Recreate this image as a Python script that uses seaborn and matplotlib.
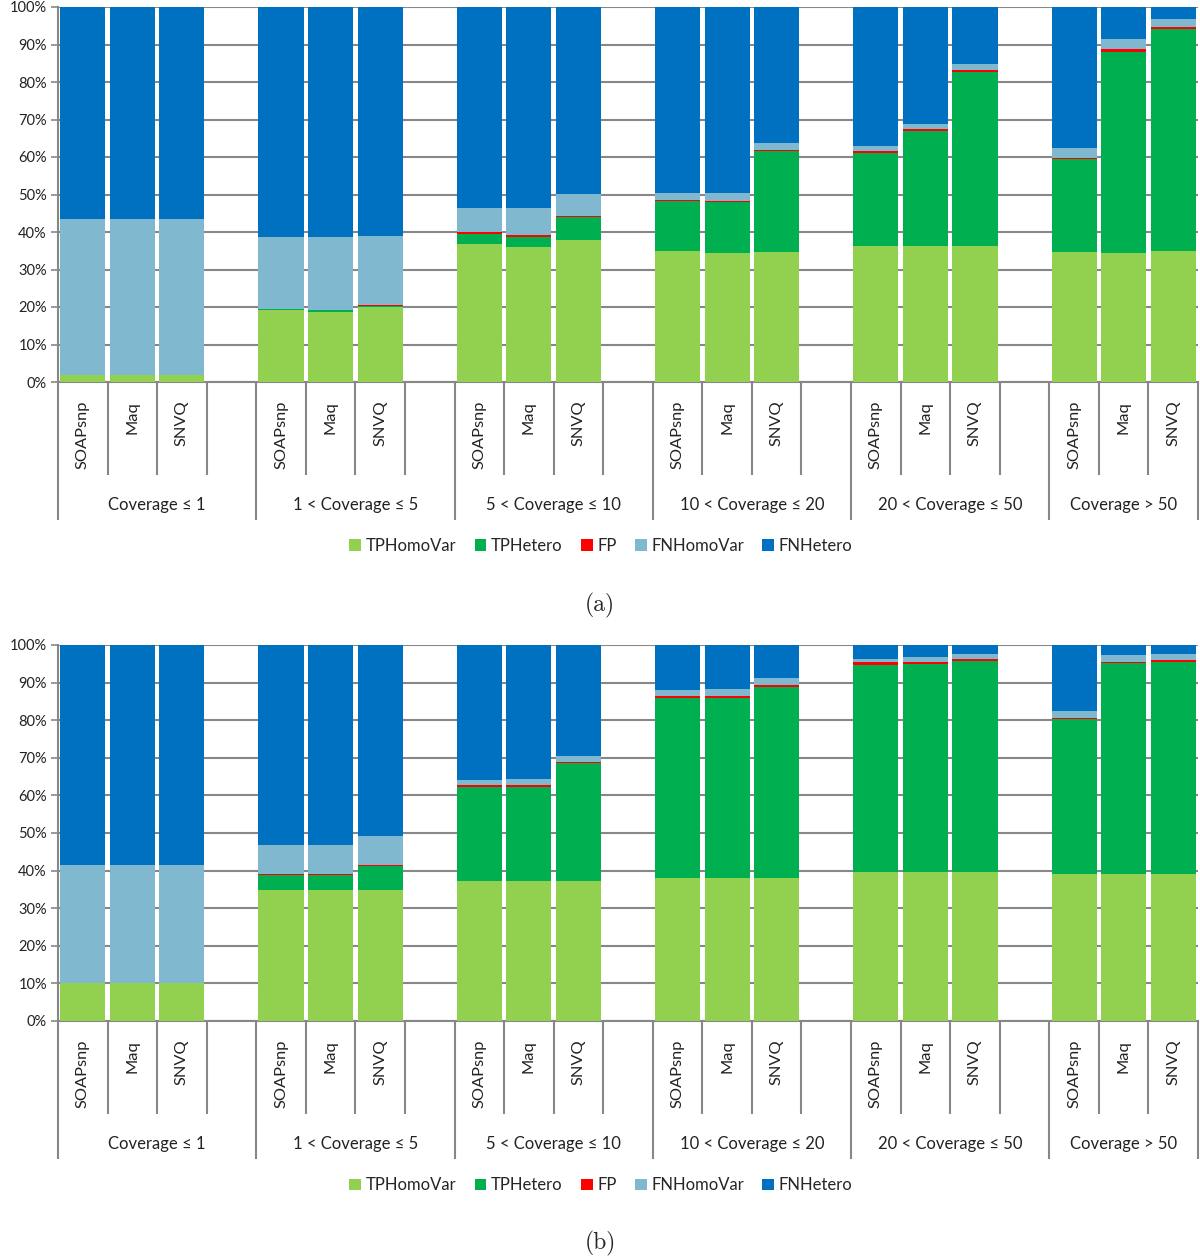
import numpy as np
import pandas as pd
import matplotlib
matplotlib.use("Agg")
import matplotlib.pyplot as plt
import matplotlib.transforms as mtransforms
from matplotlib.patches import Patch
import seaborn as sns

# ---------------- data (percent) ----------------
groups = ["Coverage \u2264 1", "1 < Coverage \u2264 5", "5 < Coverage \u2264 10",
          "10 < Coverage \u2264 20", "20 < Coverage \u2264 50", "Coverage > 50"]
methods = ["SOAPsnp", "Maq", "SNVQ"]
layers = ["TPHomoVar", "TPHetero", "FP", "FNHomoVar", "FNHetero"]

# panel (a): one value per bar, bars ordered group by group
a_tp_homo = [2.0, 2.0, 2.0, 19.1, 18.8, 19.9, 36.8, 35.9, 37.8,
             35.0, 34.4, 34.7, 36.2, 36.2, 36.2, 34.7, 34.4, 35.0]
a_tp_het = [0.0, 0.0, 0.0, 0.3, 0.3, 0.3, 2.8, 2.8, 6.2,
            13.2, 13.5, 26.9, 25.0, 30.7, 46.5, 24.7, 53.7, 59.1]
a_fp = [0.0, 0.0, 0.0, 0.0, 0.0, 0.4, 0.4, 0.4, 0.4,
        0.4, 0.4, 0.4, 0.4, 0.5, 0.4, 0.4, 0.6, 0.5]
a_fn_homo = [41.5, 41.5, 41.5, 19.2, 19.5, 18.3, 6.5, 7.4, 5.7,
             1.9, 2.2, 1.8, 1.3, 1.5, 1.6, 2.5, 2.7, 2.2]

# panel (b)
b_tp_homo = [10.0, 10.0, 10.0, 34.9, 34.9, 34.9, 37.3, 37.3, 37.3,
             37.9, 37.9, 37.9, 39.7, 39.7, 39.7, 39.0, 39.0, 39.0]
b_tp_het = [0.0, 0.0, 0.0, 3.8, 3.8, 6.3, 25.0, 25.0, 31.2,
            48.0, 48.0, 51.0, 54.9, 55.2, 56.1, 41.2, 56.1, 56.5]
b_fp = [0.0, 0.0, 0.0, 0.4, 0.4, 0.4, 0.4, 0.4, 0.4,
        0.5, 0.5, 0.4, 0.9, 0.5, 0.4, 0.4, 0.5, 0.5]
b_fn_homo = [31.4, 31.4, 31.4, 7.8, 7.8, 7.6, 1.3, 1.7, 1.5,
             1.5, 1.9, 2.0, 0.9, 1.4, 1.4, 1.9, 1.7, 1.6]

colors = {"TPHomoVar": "#92D050", "TPHetero": "#00B050", "FP": "#FF0000",
          "FNHomoVar": "#7FB8CF", "FNHetero": "#0070C0"}
GRID = "#878787"
TXT = "#222222"

sns.set_style("white")
plt.rcParams["font.family"] = ["Lato", "DejaVu Sans"]


def make_frame(tp_homo, tp_het, fp, fn_homo):
    rows = []
    for i in range(len(tp_homo)):
        g, m = divmod(i, 3)
        rows.append({"group": groups[g], "method": methods[m], "slot": g * 4 + m,
                     "TPHomoVar": tp_homo[i], "TPHetero": tp_het[i], "FP": fp[i],
                     "FNHomoVar": fn_homo[i]})
    df = pd.DataFrame(rows)
    df["FNHetero"] = 100 - df[["TPHomoVar", "TPHetero", "FP", "FNHomoVar"]].sum(axis=1)
    return df


def stacked_panel(ax, df):
    # cumulative heights, drawn from the top layer down so lower layers overdraw
    cum = df[layers].cumsum(axis=1)
    for layer in reversed(layers):
        sns.barplot(x=df["slot"], y=cum[layer], native_scale=True, width=0.91,
                    color=colors[layer], saturation=1, errorbar=None,
                    linewidth=0, ax=ax, zorder=3)

    ax.set_xlim(-0.5, 22.5)
    ax.set_ylim(0, 100)
    ax.set_yticks(np.arange(0, 101, 10))
    ax.set_yticklabels([f"{v}%" for v in range(0, 101, 10)], fontsize=10.5, color=TXT)
    ax.yaxis.grid(True, color=GRID, linewidth=1.5, zorder=0)
    ax.set_axisbelow(True)
    ax.set_xticks([])
    ax.set_xlabel("")
    ax.set_ylabel("")
    for s in ["top", "right"]:
        ax.spines[s].set_visible(False)
    for s in ["left", "bottom"]:
        ax.spines[s].set_color(GRID)
        ax.spines[s].set_linewidth(1.5)
    ax.tick_params(axis="y", length=5, width=1.2, color=GRID, pad=3, left=True)

    # category axis built by hand: slot dividers, method labels, group labels
    trans = mtransforms.blended_transform_factory(ax.transData, ax.transAxes)
    for k in range(24):
        xb = k - 0.5
        depth = -0.368 if (k % 4 == 0 or k == 23) else -0.248
        ax.plot([xb, xb], [0, depth], transform=trans, color=GRID, lw=1.5,
                clip_on=False, solid_capstyle="butt")
    for _, r in df.iterrows():
        ax.text(r["slot"], -0.05, r["method"], transform=trans, rotation=90,
                ha="center", va="top", fontsize=11.8, color=TXT)
    for g, name in enumerate(groups):
        xc = g * 4 + 1.5 if g < 5 else 21.0
        ax.text(xc, -0.328, name, transform=trans, ha="center", va="center",
                fontsize=12, color=TXT)

    handles = [Patch(facecolor=colors[l], edgecolor="none", label=l) for l in layers]
    ax.legend(handles=handles, loc="center", bbox_to_anchor=((601 - 58) / 1140, -0.437),
              ncol=5, frameon=False, fontsize=12, handlelength=0.7, handleheight=0.7,
              handletextpad=0.3, columnspacing=1.08)


fig = plt.figure(figsize=(12, 12.58), dpi=100)
ax_a = fig.add_axes([58 / 1200, 1 - 382 / 1258, 1140 / 1200, 375 / 1258])
ax_b = fig.add_axes([58 / 1200, 1 - 1021 / 1258, 1140 / 1200, 376 / 1258])

stacked_panel(ax_a, make_frame(a_tp_homo, a_tp_het, a_fp, a_fn_homo))
stacked_panel(ax_b, make_frame(b_tp_homo, b_tp_het, b_fp, b_fn_homo))

fig.text(0.5, 1 - 605 / 1258, "(a)", ha="center", va="center", fontsize=17, family="cmr10")
fig.text(0.5, 1 - 1243 / 1258, "(b)", ha="center", va="center", fontsize=17, family="cmr10")

fig.savefig("out.png", dpi=100)
